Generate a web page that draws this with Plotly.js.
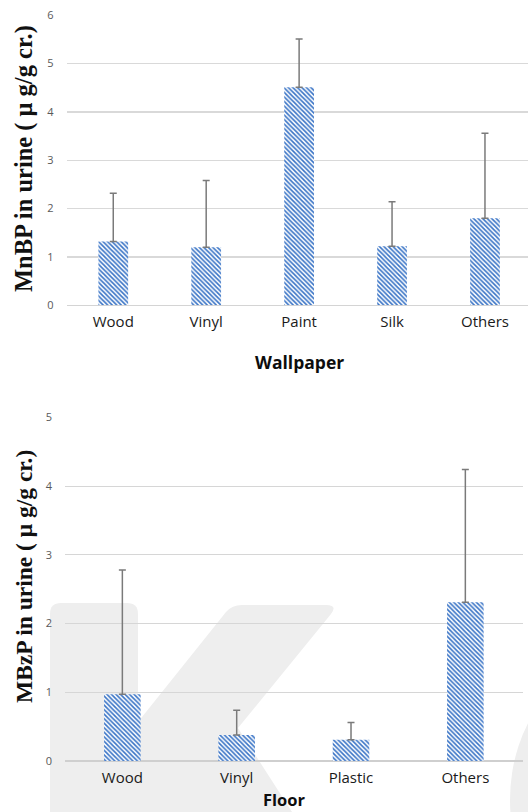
<!DOCTYPE html>
<html>
<head>
<meta charset="utf-8">
<script src="https://cdn.plot.ly/plotly-3.0.1.min.js"></script>
<style>html,body{margin:0;padding:0;background:#fff;}#chart{width:528px;height:812px;}</style>
</head>
<body>
<div id="chart"></div>
<script>
// ---- data ----
const wallCats = ['Wood', 'Vinyl', 'Paint', 'Silk', 'Others'];
const wallMeans = [1.32, 1.20, 4.51, 1.22, 1.80];
const wallSD = [1.00, 1.38, 1.00, 0.92, 1.76];
const wallTicks = [0, 1, 2, 3, 4, 5, 6];

const floorCats = ['Wood', 'Vinyl', 'Plastic', 'Others'];
const floorMeans = [0.97, 0.38, 0.31, 2.31];
const floorSD = [1.81, 0.36, 0.25, 1.93];
const floorTicks = [0, 1, 2, 3, 4, 5];

const W = 528, H = 812;
const px = v => v / W;
const py = v => 1 - v / H;

const barPattern = {shape: '\\', fgcolor: '#3a74c6', bgcolor: '#ffffff', size: 3.2, solidity: 0.5};
const errStyle = {color: '#7a7a7a', thickness: 1.5, width: 3.5};

function zeros(a) { return a.map(() => 0); }

const traces = [
  {
    type: 'bar', x: wallCats, y: wallMeans, xaxis: 'x', yaxis: 'y', width: 0.32,
    marker: {color: '#ffffff', pattern: barPattern, line: {width: 0}},
    error_y: Object.assign({type: 'data', symmetric: false, array: wallSD, arrayminus: zeros(wallSD)}, errStyle),
    hoverinfo: 'x+y', showlegend: false
  },
  {
    type: 'bar', x: floorCats, y: floorMeans, xaxis: 'x2', yaxis: 'y2', width: 0.32,
    marker: {color: '#ffffff', pattern: barPattern, line: {width: 0}},
    error_y: Object.assign({type: 'data', symmetric: false, array: floorSD, arrayminus: zeros(floorSD)}, errStyle),
    hoverinfo: 'x+y', showlegend: false
  }
];

const tickFontX = {family: 'Open Sans, Noto Sans, sans-serif', size: 15, color: '#1a1a1a'};
const tickFontY = {family: 'Open Sans, Noto Sans, sans-serif', size: 11, color: '#595959'};
const titleFontY = {family: 'Liberation Serif, DejaVu Serif, serif', size: 24.5, color: '#111111', weight: 'bold'};
const titleFontX = {family: 'Open Sans, Noto Sans, sans-serif', size: 17.5, color: '#0d0d0d', weight: 'bold'};

const wm = '#eeeeee';
const layout = {
  width: W, height: H,
  margin: {l: 0, r: 0, t: 0, b: 0},
  paper_bgcolor: '#ffffff', plot_bgcolor: 'rgba(0,0,0,0)',
  showlegend: false,
  xaxis: {
    domain: [px(66.8), 1], range: [-0.5, 4.463], type: 'category',
    showgrid: false, showline: false, zeroline: false,
    ticks: 'outside', ticklen: 3, tickcolor: 'rgba(0,0,0,0)', tickfont: tickFontX,
    anchor: 'y', fixedrange: true
  },
  yaxis: {
    domain: [py(305.3), py(15.3)], range: [0, 6.0], tickvals: wallTicks,
    showgrid: true, gridcolor: '#d9d9d9', gridwidth: 1.5,
    zeroline: true, zerolinecolor: '#d4d4d4', zerolinewidth: 1.5, showline: false,
    ticks: 'outside', ticklen: 10, tickcolor: 'rgba(0,0,0,0)', tickfont: tickFontY,
    anchor: 'x', fixedrange: true
  },
  xaxis2: {
    domain: [px(65.2), px(522.5)], range: [-0.5, 3.5], type: 'category',
    showgrid: false, showline: false, zeroline: false,
    ticks: 'outside', ticklen: 3, tickcolor: 'rgba(0,0,0,0)', tickfont: tickFontX,
    anchor: 'y2', fixedrange: true
  },
  yaxis2: {
    domain: [py(761), py(417.3)], range: [0, 5.0], tickvals: floorTicks,
    showgrid: true, gridcolor: '#d6d6d6', gridwidth: 1,
    zeroline: true, zerolinecolor: '#cfcfcf', zerolinewidth: 1.5, showline: false,
    ticks: 'outside', ticklen: 10, tickcolor: 'rgba(0,0,0,0)', tickfont: tickFontY,
    anchor: 'x2', fixedrange: true
  },
  shapes: [
    // faint watermark behind the lower chart (decoration)
    {type: 'path', xref: 'paper', yref: 'paper', layer: 'below', fillcolor: wm, line: {width: 0},
     path: `M ${px(50)} ${py(812)} L ${px(50)} ${py(614)} Q ${px(50)} ${py(603)} ${px(61)} ${py(603)} L ${px(127)} ${py(603)} Q ${px(138)} ${py(603)} ${px(138)} ${py(614)} L ${px(138)} ${py(812)} Z`},
    {type: 'path', xref: 'paper', yref: 'paper', layer: 'below', fillcolor: wm, line: {width: 0},
     path: `M ${px(138)} ${py(722)} L ${px(226)} ${py(612)} Q ${px(232)} ${py(605)} ${px(242)} ${py(605)} L ${px(326)} ${py(605)} Q ${px(338)} ${py(605)} ${px(331)} ${py(614)} L ${px(238)} ${py(728)} L ${px(292)} ${py(812)} L ${px(138)} ${py(812)} Z`},
    {type: 'circle', xref: 'paper', yref: 'paper', layer: 'below', fillcolor: wm, line: {width: 0},
     x0: px(510), x1: px(730), y0: py(660), y1: py(940)}
  ],
  annotations: [
    {text: 'MnBP in urine ( μ g/g cr.)', xref: 'paper', yref: 'paper', x: px(24), y: py(159),
     xanchor: 'center', yanchor: 'middle', textangle: -90, showarrow: false, font: titleFontY},
    {text: 'MBzP in urine ( μ g/g cr.)', xref: 'paper', yref: 'paper', x: px(24), y: py(577),
     xanchor: 'center', yanchor: 'middle', textangle: -90, showarrow: false,
     font: Object.assign({}, titleFontY, {size: 23.5})},
    {text: 'Wallpaper', xref: 'paper', yref: 'paper', x: px(299), y: py(362),
     xanchor: 'center', yanchor: 'middle', showarrow: false, font: titleFontX},
    {text: 'Floor', xref: 'paper', yref: 'paper', x: px(284), y: py(812),
     xanchor: 'center', yanchor: 'bottom', borderpad: 0, showarrow: false,
     font: Object.assign({}, titleFontX, {size: 16.5})}
  ]
};

Plotly.newPlot('chart', traces, layout, {displayModeBar: false, staticPlot: true});
</script>
</body>
</html>
